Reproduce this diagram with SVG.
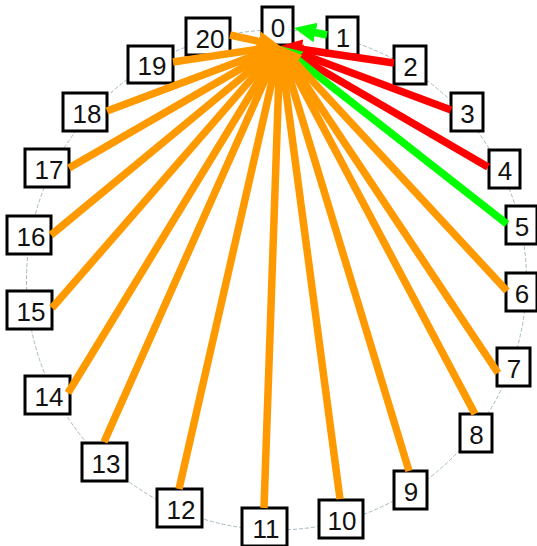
<svg xmlns="http://www.w3.org/2000/svg" width="537" height="546" viewBox="0 0 537 546">
<style>
  .box { fill: #ffffff; stroke: #000000; stroke-width: 3; }
  .lbl { font-family: "Liberation Sans", Arial, sans-serif; font-size: 26px; fill: #111111; text-anchor: middle; }
  .e { stroke-width: 7.5; fill: none; stroke-linecap: butt; }
  .o { stroke: #FF9900; marker-end: url(#ao); }
  .r { stroke: #FF0000; marker-end: url(#ar); }
  .g { stroke: #00FF00; marker-end: url(#ag); }
</style>
<defs>
  <marker id="ao" markerUnits="userSpaceOnUse" markerWidth="24" markerHeight="22" refX="7" refY="11" orient="auto" viewBox="0 0 24 22">
    <path d="M0,1 L22,11 L0,21 z" fill="#FF9900"/>
  </marker>
  <marker id="ar" markerUnits="userSpaceOnUse" markerWidth="24" markerHeight="22" refX="7" refY="11" orient="auto" viewBox="0 0 24 22">
    <path d="M0,1 L22,11 L0,21 z" fill="#FF0000"/>
  </marker>
  <marker id="ag" markerUnits="userSpaceOnUse" markerWidth="24" markerHeight="22" refX="7" refY="11" orient="auto" viewBox="0 0 24 22">
    <path d="M0,1 L22,11 L0,21 z" fill="#00FF00"/>
  </marker>
</defs>
<rect x="0" y="0" width="537" height="546" fill="#ffffff"/>
<circle cx="276.5" cy="280" r="250" fill="none" stroke="#A4BBBF" stroke-width="1" stroke-dasharray="4,2"/>
<g id="nodes">
  <g id="n0"><rect class="box" x="262" y="7" width="31" height="38"/><text class="lbl" x="278" y="37">0</text></g>
  <g id="n1"><rect class="box" x="327" y="17" width="31" height="38"/><text class="lbl" x="343" y="47">1</text></g>
  <g id="n2"><rect class="box" x="394" y="46" width="32" height="38"/><text class="lbl" x="410.5" y="76">2</text></g>
  <g id="n3"><rect class="box" x="451" y="93" width="32" height="38"/><text class="lbl" x="467.5" y="123">3</text></g>
  <g id="n4"><rect class="box" x="489" y="150" width="31" height="38"/><text class="lbl" x="505" y="180">4</text></g>
  <g id="n5"><rect class="box" x="506" y="206" width="31" height="38"/><text class="lbl" x="522" y="236">5</text></g>
  <g id="n6"><rect class="box" x="506" y="273" width="31" height="38"/><text class="lbl" x="522" y="303">6</text></g>
  <g id="n7"><rect class="box" x="497" y="348" width="33" height="38"/><text class="lbl" x="514" y="378">7</text></g>
  <g id="n8"><rect class="box" x="460" y="414" width="32" height="38"/><text class="lbl" x="476.5" y="444">8</text></g>
  <g id="n9"><rect class="box" x="394" y="471" width="33" height="38"/><text class="lbl" x="411" y="501">9</text></g>
  <g id="n10"><rect class="box" x="319" y="500" width="44" height="38"/><text class="lbl" x="342" y="530">10</text></g>
  <g id="n11"><rect class="box" x="242" y="508" width="45" height="38"/><text class="lbl" x="266" y="538">11</text></g>
  <g id="n12"><rect class="box" x="157" y="489" width="45" height="38"/><text class="lbl" x="181" y="519">12</text></g>
  <g id="n13"><rect class="box" x="82" y="443" width="45" height="38"/><text class="lbl" x="106" y="473">13</text></g>
  <g id="n14"><rect class="box" x="25" y="376" width="45" height="38"/><text class="lbl" x="49" y="406">14</text></g>
  <g id="n15"><rect class="box" x="7" y="291" width="45" height="38"/><text class="lbl" x="31" y="321">15</text></g>
  <g id="n16"><rect class="box" x="7" y="216" width="44" height="38"/><text class="lbl" x="31" y="246">16</text></g>
  <g id="n17"><rect class="box" x="25" y="149" width="44" height="38"/><text class="lbl" x="49" y="179">17</text></g>
  <g id="n18"><rect class="box" x="63" y="93" width="44" height="38"/><text class="lbl" x="87" y="123">18</text></g>
  <g id="n19"><rect class="box" x="128" y="46" width="45" height="37"/><text class="lbl" x="152" y="75">19</text></g>
  <g id="n20"><rect class="box" x="186" y="18" width="44" height="37"/><text class="lbl" x="210" y="48">20</text></g>
</g>
<g id="connectors">
  <line class="e g" x1="327" y1="35" x2="308.7" y2="31.1"/>
  <line class="e r" x1="394" y1="63" x2="294.8" y2="48.2"/>
  <line class="e r" x1="451" y1="110" x2="294.0" y2="51.3"/>
  <line class="e r" x1="488" y1="167" x2="293.0" y2="53.5"/>
  <line class="e g" x1="507" y1="224" x2="291.8" y2="55.3"/>
  <line class="e o" x1="507" y1="291" x2="290.2" y2="57.0"/>
  <line class="e o" x1="498" y1="373" x2="288.3" y2="58.5"/>
  <line class="e o" x1="475" y1="414" x2="287.0" y2="59.3"/>
  <line class="e o" x1="409" y1="471" x2="284.4" y2="60.4"/>
  <line class="e o" x1="340" y1="499" x2="282.0" y2="60.9"/>
  <line class="e o" x1="264" y1="508" x2="279.5" y2="61.0"/>
  <line class="e o" x1="179" y1="489" x2="276.7" y2="60.6"/>
  <line class="e o" x1="104" y1="442" x2="273.9" y2="59.7"/>
  <line class="e o" x1="68" y1="393" x2="272.2" y2="58.8"/>
  <line class="e o" x1="52" y1="308" x2="270.2" y2="57.3"/>
  <line class="e o" x1="51" y1="235" x2="268.4" y2="55.5"/>
  <line class="e o" x1="69" y1="168" x2="267.0" y2="53.5"/>
  <line class="e o" x1="107" y1="111" x2="266.0" y2="51.3"/>
  <line class="e o" x1="173" y1="62" x2="265.2" y2="48.2"/>
  <line class="e o" x1="230" y1="35" x2="265.4" y2="42.8"/>
</g>
</svg>
